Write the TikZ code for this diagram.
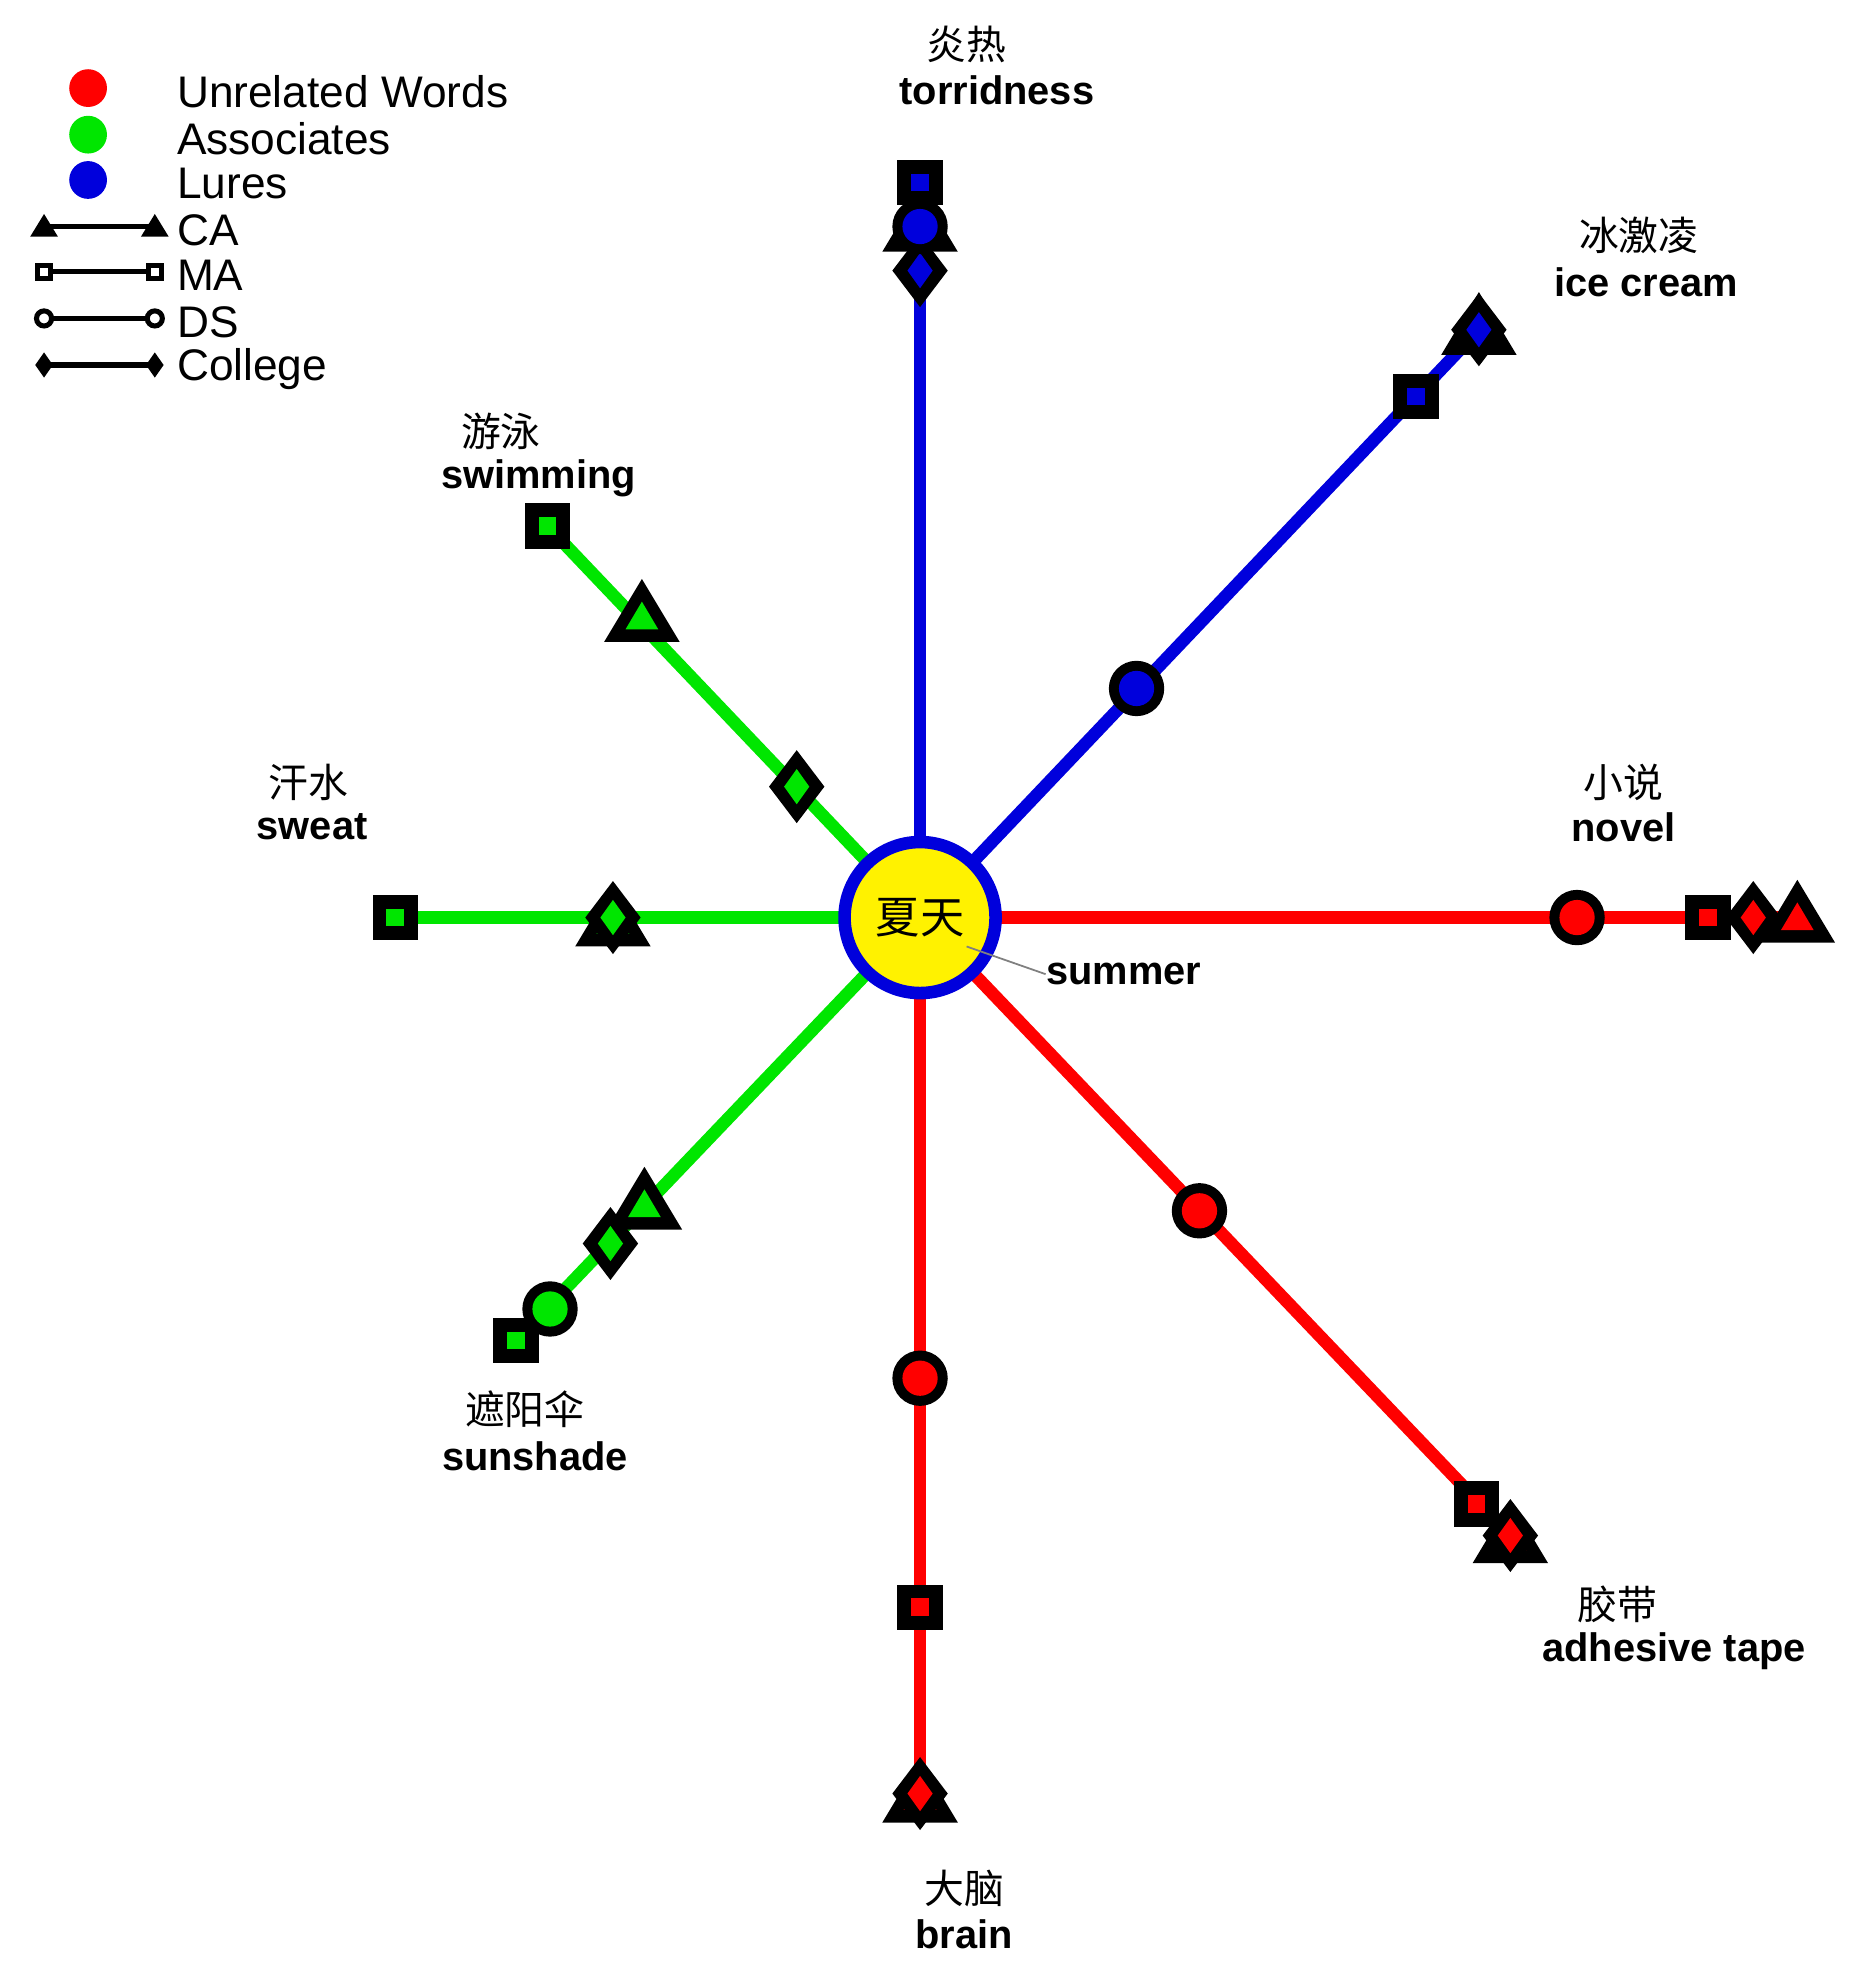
\documentclass[tikz,border=0pt]{standalone}
\usepackage{fontspec}
\setmainfont{Liberation Sans}
\newfontfamily\cjk{Noto Sans CJK SC}
\begin{document}
\begin{tikzpicture}[x=0.1mm,y=-0.1mm,
  arm/.style={line width=10*0.2845pt},
  lbl/.style={font=\fontsize{9}{10}\selectfont\bfseries,inner sep=0pt},
  clbl/.style={font=\fontsize{9}{10}\selectfont\cjk,inner sep=0pt},
  leg/.style={font=\fontsize{10}{11}\selectfont,inner sep=0pt,anchor=west}]
\definecolor{rr}{RGB}{255,0,0}\definecolor{gg}{RGB}{0,230,0}\definecolor{bb}{RGB}{0,0,220}
\useasboundingbox (0,0) rectangle (1480,1566);
\newcommand\Msq[3]{\fill (#1-18,#2-18) rectangle (#1+18,#2+18);\fill[#3] (#1-7,#2-7) rectangle (#1+7,#2+7);}
\newcommand\Mci[3]{\fill (#1,#2) circle (22);\fill[#3] (#1,#2) circle (14);}
\newcommand\Mtr[3]{\fill (#1-30,#2+20) -- (#1,#2-30) -- (#1+30,#2+20) -- cycle;\fill[#3] (#1-13,#2+10) -- (#1,#2-12) -- (#1+13,#2+10) -- cycle;}
\newcommand\Mdi[3]{\fill (#1-22,#2) -- (#1,#2-29) -- (#1+22,#2) -- (#1,#2+29) -- cycle;\fill[#3] (#1-10,#2) -- (#1,#2-14) -- (#1+10,#2) -- (#1,#2+14) -- cycle;}
% center
\coordinate (c) at (731,729);
\coordinate (eN) at (731,145); \coordinate (eNE) at (1175,262); \coordinate (eE) at (1430,729);
\coordinate (eSE) at (1200,1220); \coordinate (eS) at (731,1425); \coordinate (eSW) at (410,1065);
\coordinate (eW) at (314,729); \coordinate (eNW) at (435,418);
\draw[arm,bb] (c) -- (eN); \draw[arm,bb] (c) -- (eNE);
\draw[arm,rr] (c) -- (eE); \draw[arm,rr] (c) -- (eSE); \draw[arm,rr] (c) -- (eS);
\draw[arm,gg] (c) -- (eSW); \draw[arm,gg] (c) -- (eW); \draw[arm,gg] (c) -- (eNW);
\node[circle,fill=yellow,draw=bb,line width=10*0.2845pt,minimum size=120*0.1mm,inner sep=0pt] (ctr) at (c) {};
\node[font=\fontsize{10}{11}\selectfont\cjk,inner sep=0pt] at (731,729) {夏天};
\node[lbl] (sum) at (893,774) {summer};
\draw[gray,line width=0.4pt] (768,752) -- (sum.west);
% markers N
\Mdi{731}{215}{bb}\Mtr{731}{180}{bb}\Mci{731}{180}{bb}\Msq{731}{145}{bb}
% NE
\Mci{903}{547}{bb}\Msq{1125}{315}{bb}\Mtr{1175}{262}{bb}\Mdi{1175}{262}{bb}
% E
\Mci{1253}{729}{rr}\Msq{1357}{729}{rr}\Mtr{1428}{729}{rr}\Mdi{1393}{729}{rr}
% SE
\Mci{953}{962}{rr}\Msq{1173}{1195}{rr}\Mtr{1200}{1222}{rr}\Mdi{1200}{1220}{rr}
% S
\Mci{731}{1095}{rr}\Msq{731}{1277}{rr}\Mtr{731}{1428}{rr}\Mdi{731}{1425}{rr}
% SW
\Mtr{512}{957}{gg}\Mdi{485}{988}{gg}\Msq{410}{1065}{gg}\Mci{437}{1040}{gg}
% W
\Msq{314}{729}{gg}\Mtr{487}{732}{gg}\Mdi{487}{729}{gg}
% NW
\Msq{435}{418}{gg}\Mtr{510}{490}{gg}\Mdi{633}{625}{gg}
% labels
\node[clbl] at (768,35) {炎热}; \node[lbl] at (792,72) {torridness};
\node[clbl] at (1302,187) {冰激凌}; \node[lbl] at (1308,224) {ice cream};
\node[clbl] at (1290,622) {小说}; \node[lbl] at (1290,657) {novel};
\node[clbl] at (1285,1275) {胶带}; \node[lbl] at (1330,1312) {adhesive tape};
\node[clbl] at (766,1500) {大脑}; \node[lbl] at (766,1537) {brain};
\node[clbl] at (417,1120) {遮阳伞}; \node[lbl] at (425,1157) {sunshade};
\node[clbl] at (245,622) {汗水}; \node[lbl] at (248,657) {sweat};
\node[clbl] at (398,343) {游泳}; \node[lbl] at (428,380) {swimming};
% legend
\fill[rr] (70,70) circle (15); \fill[gg] (70,107) circle (15); \fill[bb] (70,143) circle (15);
\node[leg] at (140,73) {Unrelated Words};
\node[leg] at (140,110) {Associates};
\node[leg] at (140,146) {Lures};
\node[leg] at (140,183) {CA};
\node[leg] at (140,219) {MA};
\node[leg] at (140,256) {DS};
\node[leg] at (140,293) {College};
\begin{scope}[line width=4*0.2845pt]
\draw (35,180) -- (123,180); \fill (24,188) -- (35,170) -- (46,188) -- cycle; \fill (112,188) -- (123,170) -- (134,188) -- cycle;
\draw (35,216) -- (123,216); \draw[fill=white] (30,211) rectangle (40,221); \draw[fill=white] (118,211) rectangle (128,221);
\draw (35,253) -- (123,253); \draw[fill=white] (35,253) circle (6); \draw[fill=white] (123,253) circle (6);
\draw (35,290) -- (123,290); \fill (28,290) -- (35,280) -- (42,290) -- (35,300) -- cycle; \fill (116,290) -- (123,280) -- (130,290) -- (123,300) -- cycle;
\end{scope}
\end{tikzpicture}
\end{document}
